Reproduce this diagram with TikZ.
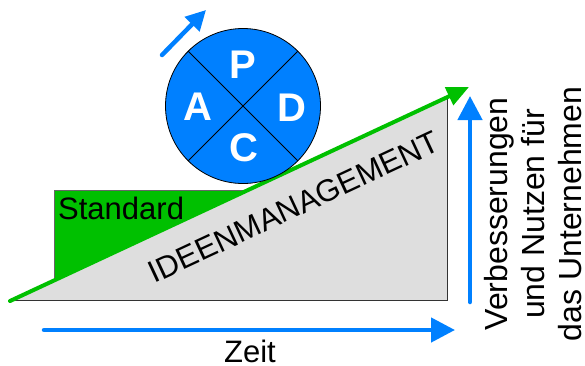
\documentclass[tikz,border=0pt]{standalone}
\usepackage{fontspec}
\setmainfont{Liberation Sans}
\usetikzlibrary{arrows.meta}
\definecolor{pblue}{HTML}{0080FF}
\definecolor{pgreen}{HTML}{00C000}
\definecolor{pgray}{HTML}{DEDEDE}
\tikzset{
  bluearrow/.style={draw=pblue, line width=4.5pt, line cap=round, -{Triangle[length=24pt,width=24pt]}},
  greenarrow/.style={draw=pgreen, line width=4pt, line cap=round, -{Triangle[length=22pt,width=19pt]}},
  letter/.style={text=white, font=\fontsize{40}{40}\selectfont\bfseries, inner sep=0pt},
  label/.style={font=\fontsize{31}{36}\selectfont, inner sep=0pt},
}
\begin{document}
\begin{tikzpicture}[x=1pt,y=-1pt]
\useasboundingbox (0,0) rectangle (585,365);
% ground polygon
\fill[pgray] (10,301) -- (447,97) -- (447,300.5) -- cycle;
\draw[black!80, line width=1pt] (447,97) -- (447,300.5) -- (10,300.5);
% standard block
\fill[pgreen] (54,190) -- (248,190) -- (54,280.5) -- cycle;
\draw[black!60, line width=1pt] (54,280.5) -- (54,190) -- (248,190);
% green rising line
\coordinate (gstart) at (10,301);
\coordinate (gtip) at (469,87);
\draw[greenarrow] (gstart) -- (gtip);
% PDCA wheel
\node[circle, draw=black, line width=0.8pt, fill=pblue, minimum size=155pt, inner sep=0pt] (pdca) at (243,106) {};
\draw[black, line width=0.8pt] (pdca.135) -- (pdca.-45);
\draw[black, line width=0.8pt] (pdca.45) -- (pdca.-135);
\node[letter] (P) at (243,65) {P};
\node[letter] (A) at (198,107) {A};
\node[letter] (D) at (292,108) {D};
\node[letter] (C) at (244,148) {C};
% small rolling arrow
\coordinate (rs) at (162,55);
\coordinate (re) at (206,10);
\draw[draw=pblue, line width=4.5pt, line cap=round, -{Triangle[length=20pt,width=20pt]}] (rs) -- (re);
% axes
\coordinate (xs) at (44,330);
\coordinate (xe) at (455,330);
\draw[bluearrow] (xs) -- (xe);
\coordinate (ys) at (470,302);
\coordinate (ye) at (470,96);
\draw[bluearrow] (ys) -- (ye);
% labels
\node[label, anchor=west] (std) at (58,208) {Standard};
\node[label] (zeit) at (250,351) {Zeit};
\node[label, rotate=25] (idee) at (294,207) {IDEENMANAGEMENT};
\node[label, rotate=90, align=center, font=\fontsize{32}{37}\selectfont] (nutzen) at (533,214) {Verbesserungen\\und Nutzen für\\das Unternehmen};
\end{tikzpicture}
\end{document}
